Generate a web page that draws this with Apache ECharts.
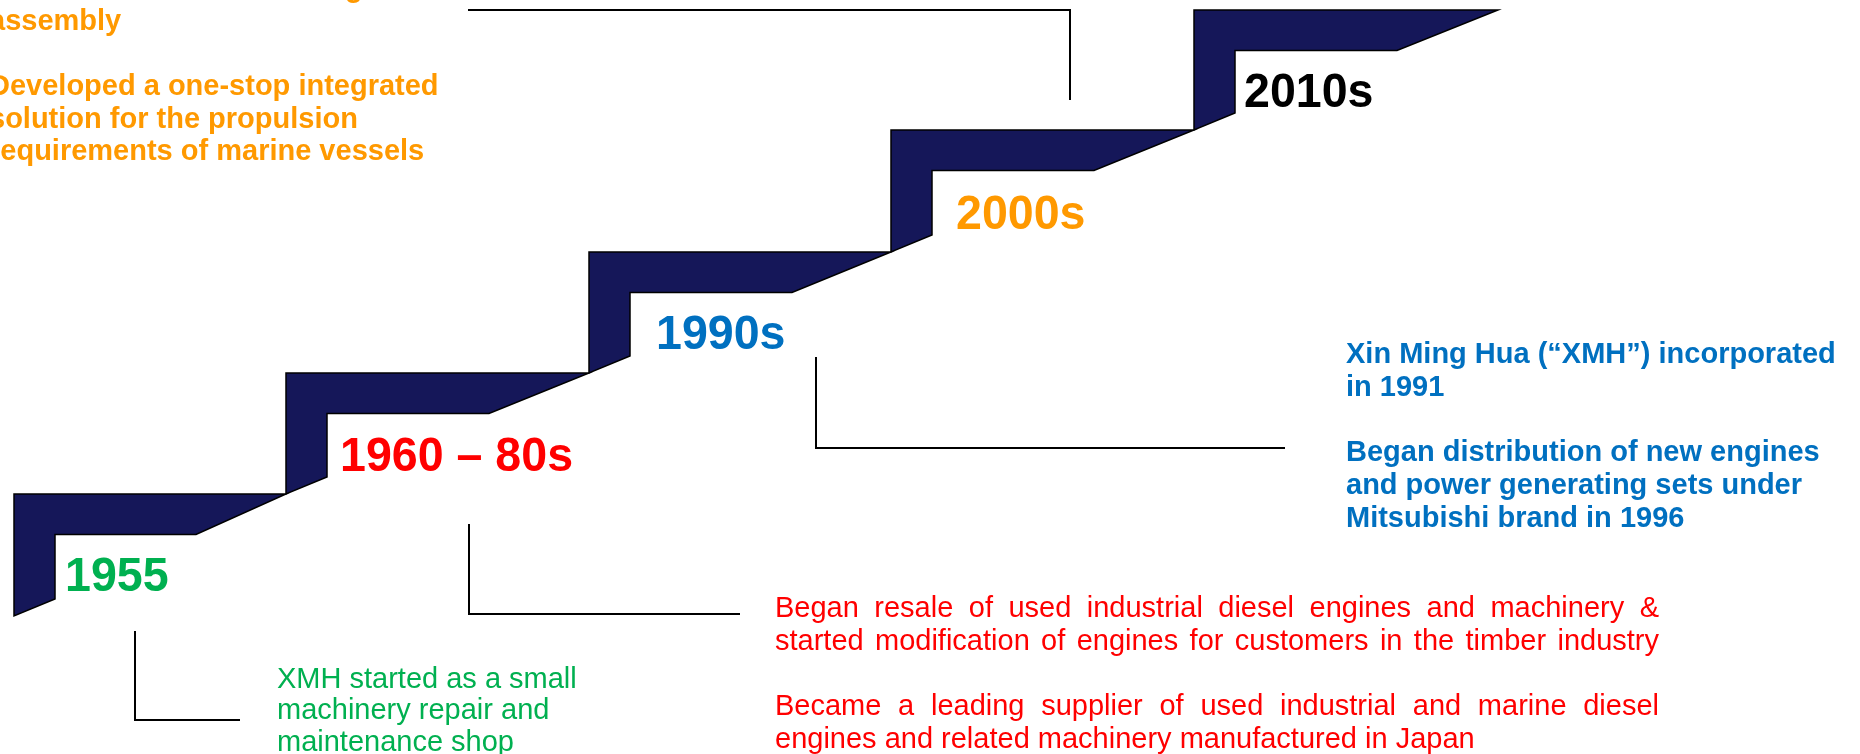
<!DOCTYPE html>
<html>
<head>
<meta charset="utf-8">
<script src="https://cdn.jsdelivr.net/npm/echarts@6/dist/echarts.min.js"></script>
<style>
  html, body { margin: 0; padding: 0; background: #ffffff; }
  #chart { width: 1860px; height: 754px; }
</style>
</head>
<body>
<div id="chart"></div>
<script>
// ---------------- data ----------------
const periods = ['1955', '1960 \u2013 80s', '1990s', '2000s', '2010s'];
const stepLevels = [0, 1, 2, 3, 4];

const note1955 = [
  ['XMH started as a small', 'machinery repair and', 'maintenance shop']
];
const note1960 = [
  ['Began resale of used industrial diesel engines and machinery &',
   'started modification of engines for customers in the timber industry'],
  ['Became a leading supplier of used industrial and marine diesel',
   'engines and related machinery manufactured in Japan']
];
const note1990 = [
  ['Xin Ming Hua (\u201cXMH\u201d) incorporated', 'in 1991'],
  ['Began distribution of new engines', 'and power generating sets under', 'Mitsubishi brand in 1996']
];
const note2000 = [
  ['Commenced full rebuilding and', 'assembly'],
  ['Developed a one-stop integrated', 'solution for the propulsion', 'requirements of marine vessels']
];

// ---------------- layout (axis units of a 1860 x 754 value grid) ----------------
const layout = {
  stepLeft:  [14, 286, 589, 891, 1194],
  stepRight: [286, 589, 891, 1194, 1498],
  treadEnd:  [196, 489, 792, 1094, 1397],
  stepTop:   [494, 373, 252, 130, 10],
  stepBase:  [616, 494, 373, 252, 130],
  riser: 41, tread: 40.5, slant: 17,
  labelAnchor: [[65, 594], [340, 474], [656, 352], [956, 232], [1244, 110]],
  connectors: [
    [[135, 631], [135, 720], [240, 720]],
    [[469, 524], [469, 614], [740, 614]],
    [[816, 357], [816, 448], [1285, 448]],
    [[468, 10], [1070, 10], [1070, 100]]
  ]
};

const styles = {
  stepFill: '#151759',
  stepStroke: '#000000',
  periodColors: ['#00B050', '#FF0000', '#0070C0', '#FF9900', '#000000'],
  font: '"Liberation Sans", Arial, Helvetica, sans-serif'
};

const noteBlocks = [
  { paras: note1955, color: '#00B050', bold: false, x: 277,  y: 690, lh: 31.5, justify: 0 },
  { paras: note1960, color: '#FF0000', bold: false, x: 775,  y: 619, lh: 32.7, justify: 884 },
  { paras: note1990, color: '#0070C0', bold: true,  x: 1346, y: 365, lh: 32.8, justify: 0 },
  { paras: note2000, color: '#FF9900', bold: true,  x: -11,  y: -1,  lh: 32.7, justify: 0 }
];

// flatten note lines
const noteLines = [];
noteBlocks.forEach(function (b) {
  let row = 0;
  const total = b.paras.reduce(function (a, p) { return a + p.length; }, 0);
  let count = 0;
  b.paras.forEach(function (para, pi) {
    if (pi > 0) row += 1; // blank line between paragraphs
    para.forEach(function (line) {
      count += 1;
      noteLines.push({
        text: line, color: b.color, bold: b.bold,
        x: b.x, y: b.y + b.lh * row,
        justify: (b.justify && count < total) ? b.justify : 0
      });
      row += 1;
    });
  });
});

const measureCtx = document.createElement('canvas').getContext('2d');
const NOTE_SIZE = 29;
const LABEL_SIZE = 48;

const chart = echarts.init(document.getElementById('chart'), null, { renderer: 'canvas' });

const option = {
  animation: false,
  backgroundColor: '#ffffff',
  grid: { left: 0, right: 0, top: 0, bottom: 0, containLabel: false },
  xAxis: { type: 'value', min: 0, max: 1860, show: false },
  yAxis: { type: 'value', min: 0, max: 754, inverse: true, show: false },
  series: [
    {
      name: 'connectors',
      type: 'custom',
      silent: true,
      data: layout.connectors.map(function (c, i) { return [i]; }),
      renderItem: function (params, api) {
        const pts = layout.connectors[params.dataIndex].map(function (p) { return api.coord(p); });
        return {
          type: 'polyline',
          shape: { points: pts },
          style: { stroke: '#000000', lineWidth: 2, fill: null }
        };
      }
    },
    {
      name: 'steps',
      type: 'custom',
      silent: true,
      data: stepLevels.map(function (lv) { return [lv]; }),
      renderItem: function (params, api) {
        const i = api.value(0);
        const L = layout.stepLeft[i], R = layout.stepRight[i], E = layout.treadEnd[i];
        const T = layout.stepTop[i], B = layout.stepBase[i];
        const pts = [
          [L, T], [R, T], [E, T + layout.tread], [L + layout.riser, T + layout.tread],
          [L + layout.riser, B - layout.slant], [L, B]
        ].map(function (p) { return api.coord(p); });
        return {
          type: 'polygon',
          shape: { points: pts },
          style: { fill: styles.stepFill, stroke: styles.stepStroke, lineWidth: 1.5, lineJoin: 'miter' }
        };
      }
    },
    {
      name: 'periods',
      type: 'custom',
      silent: true,
      data: layout.labelAnchor,
      renderItem: function (params, api) {
        const p = api.coord([api.value(0), api.value(1)]);
        return {
          type: 'text',
          x: p[0],
          y: p[1] - 0.3465 * LABEL_SIZE,
          scaleX: 0.97,
          style: {
            text: periods[params.dataIndex],
            fill: styles.periodColors[params.dataIndex],
            fontSize: LABEL_SIZE, fontWeight: 'bold', fontFamily: styles.font,
            align: 'left', verticalAlign: 'middle'
          }
        };
      }
    },
    {
      name: 'notes',
      type: 'custom',
      silent: true,
      data: noteLines.map(function (l) { return [l.x, l.y]; }),
      renderItem: function (params, api) {
        const l = noteLines[params.dataIndex];
        const p = api.coord([api.value(0), api.value(1)]);
        const ym = p[1] - 0.3465 * NOTE_SIZE;
        const weight = l.bold ? 'bold' : 'normal';
        const base = {
          fill: l.color, fontSize: NOTE_SIZE, fontWeight: weight, fontFamily: styles.font,
          align: 'left', verticalAlign: 'middle'
        };
        if (!l.justify) {
          return { type: 'text', x: p[0], y: ym, style: Object.assign({ text: l.text }, base) };
        }
        const widthPx = api.coord([l.x + l.justify, l.y])[0] - p[0];
        measureCtx.font = weight + ' ' + NOTE_SIZE + 'px ' + styles.font;
        const words = l.text.split(' ');
        const ww = words.map(function (w) { return measureCtx.measureText(w).width; });
        const sum = ww.reduce(function (a, b) { return a + b; }, 0);
        const gap = (widthPx - sum) / (words.length - 1);
        let cx = p[0];
        const children = words.map(function (w, k) {
          const el = { type: 'text', x: cx, y: ym, style: Object.assign({ text: w }, base) };
          cx += ww[k] + gap;
          return el;
        });
        return { type: 'group', children: children };
      }
    }
  ]
};

chart.setOption(option);
</script>
</body>
</html>
